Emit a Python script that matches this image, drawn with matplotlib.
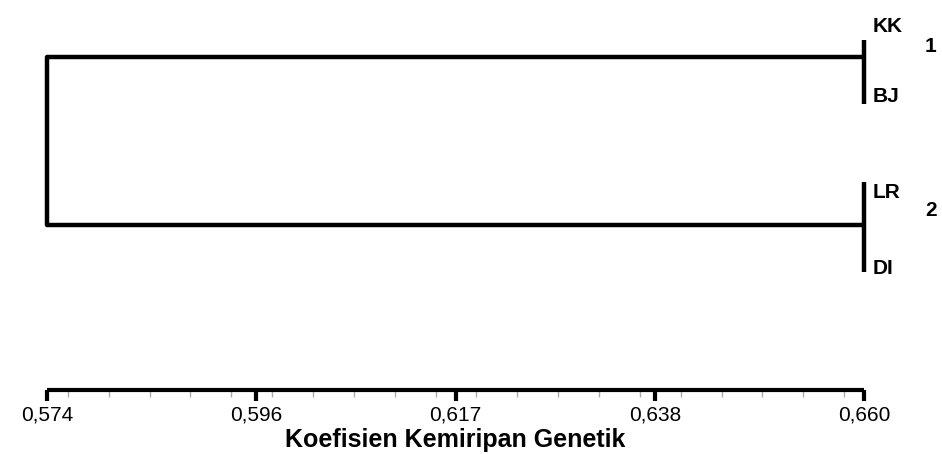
import matplotlib.pyplot as plt
from matplotlib.ticker import FixedLocator, MultipleLocator

# data
leaves = ['KK', 'BJ', 'LR', 'DI']
clusters = ['1', '2']
leaf_height = 0.660          # both pairs join at this coefficient
root_height = 0.574          # the two clusters join here
tick_values = [0.574, 0.596, 0.617, 0.638, 0.660]
tick_labels = ['0,574', '0,596', '0,617', '0,638', '0,660']
xlabel = 'Koefisien Kemiripan Genetik'

W, H = 942, 454
fig = plt.figure(figsize=(W / 100, H / 100), dpi=100)
fam = ['Liberation Sans', 'DejaVu Sans']

# pixel -> data mapping for x
x0_px, x1_px = 47, 864
scale = (x1_px - x0_px) / (tick_values[-1] - tick_values[0])
xmin = tick_values[0] - x0_px / scale
xmax = tick_values[-1] + (W - x1_px) / scale

ax = fig.add_axes([0, 0, 1, 1])
ax.set_xlim(xmin, xmax)
ax.set_ylim(H, 0)
ax.axis('off')

lw = 3.2
# cluster brackets (vertical extent, y of branch)
brackets = [(40, 104, 57), (182, 272, 225)]
for (ytop, ybot, yb) in brackets:
    ax.plot([leaf_height, leaf_height], [ytop, ybot], color='black', lw=lw,
            solid_capstyle='butt')
    ax.plot([root_height, leaf_height], [yb, yb], color='black', lw=lw,
            solid_capstyle='butt')
ax.plot([root_height, root_height], [brackets[0][2], brackets[1][2]],
        color='black', lw=lw, solid_capstyle='round')

leaf_y = [27, 97, 193, 268]
for name, y in zip(leaves, leaf_y):
    ax.text(leaf_height + 0.0009, y, name, fontsize=15, fontweight='bold',
            family=fam, va='center', ha='left')
clus_y = [47, 211]
for name, y in zip(clusters, clus_y):
    ax.text(leaf_height + 0.0064, y, name, fontsize=15, fontweight='bold',
            family=fam, va='center', ha='left')

# scale axis
axis_y = 390
ax2 = fig.add_axes([x0_px / W, 1 - axis_y / H, (x1_px - x0_px) / W, 0.001])
ax2.set_xlim(tick_values[0], tick_values[-1])
ax2.set_ylim(0, 1)
for s in ['top', 'left', 'right']:
    ax2.spines[s].set_visible(False)
ax2.spines['bottom'].set_linewidth(3)
ax2.spines['bottom'].set_capstyle('butt')
ax2.set_yticks([])
ax2.xaxis.set_major_locator(FixedLocator(tick_values))
ax2.set_xticklabels(tick_labels, family=fam, fontsize=15)
ax2.xaxis.set_minor_locator(MultipleLocator(0.0043))
ax2.tick_params(axis='x', which='major', direction='out', length=8, width=3,
                pad=3, color='black')
ax2.tick_params(axis='x', which='minor', direction='out', length=5, width=1,
                color='#aaaaaa')
ax2.set_xlabel(xlabel, fontsize=18, fontweight='bold', family=fam, labelpad=3)

fig.savefig('out.png', dpi=100)
